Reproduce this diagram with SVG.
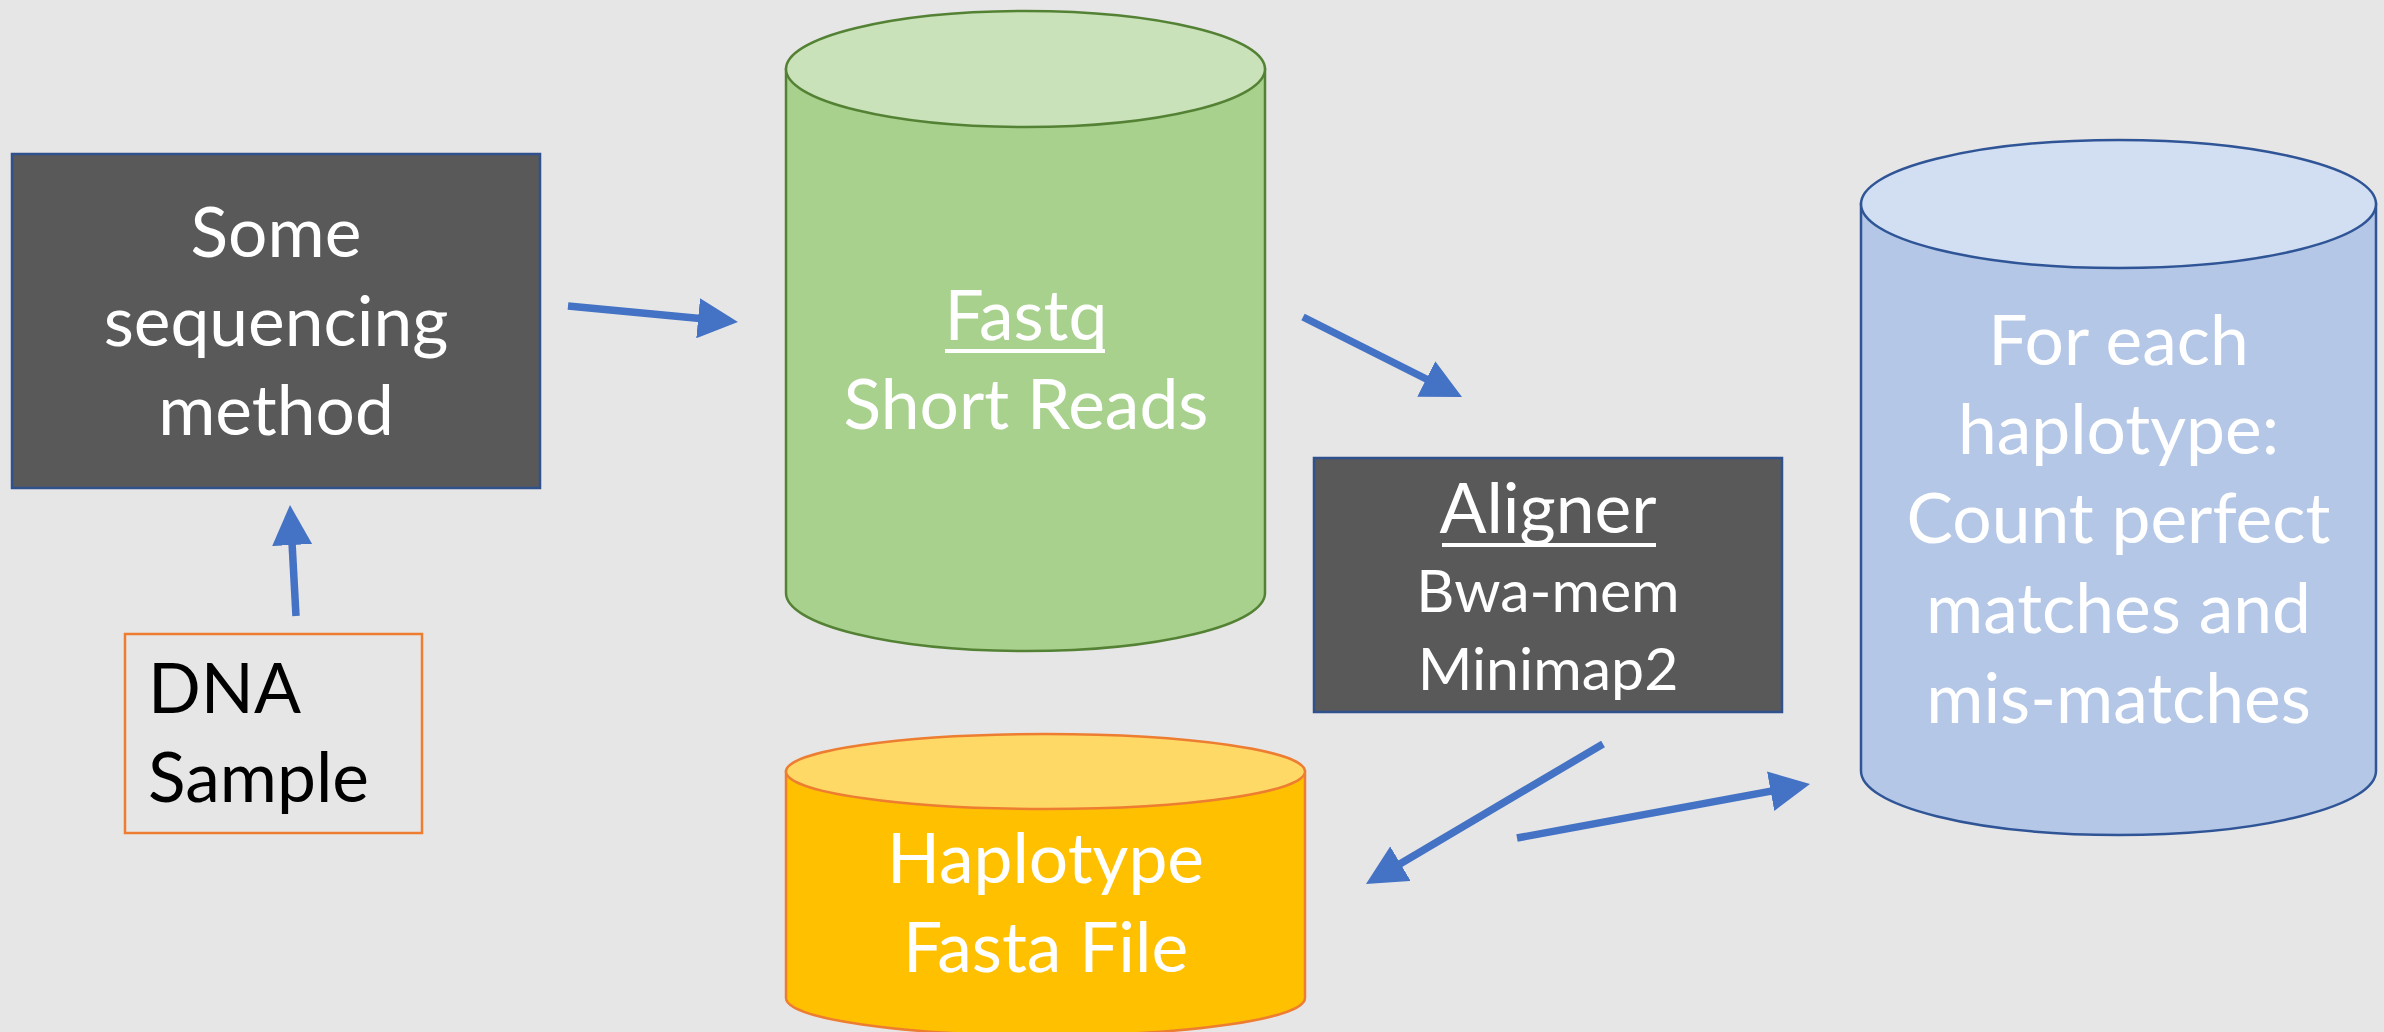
<svg xmlns="http://www.w3.org/2000/svg" width="2384" height="1032" viewBox="0 0 2384 1032">
  <style>
    .lbl { font-family: Lato, "Open Sans", "Liberation Sans", sans-serif; fill: #FFFFFF; text-anchor: middle; }
    .big { font-size: 69.5px; }
    .mid { font-size: 59px; }
    .dark { fill: #000000; text-anchor: start; }
    .proc { fill: #595959; stroke: #2F528F; stroke-width: 2.5; }
    .uline { stroke: #FFFFFF; stroke-width: 4; }
    .conn line { stroke: #4472C4; stroke-width: 7.5; marker-end: url(#head); }
  </style>
  <defs>
    <marker id="head" markerUnits="userSpaceOnUse" markerWidth="40" markerHeight="40" refX="10" refY="20" orient="auto">
      <path d="M0,0 L40,20 L0,40 Z" fill="#4472C4"/>
    </marker>
  </defs>

  <rect width="2384" height="1032" fill="#E7E6E6"/>

  <!-- sequencing step -->
  <g id="sequencing">
    <rect class="proc" x="12" y="154" width="528" height="334"/>
    <text class="lbl big" x="276" y="257">Some</text>
    <text class="lbl big" x="276" y="346">sequencing</text>
    <text class="lbl big" x="276" y="435">method</text>
  </g>

  <!-- input sample -->
  <g id="dna-sample">
    <rect x="125" y="634" width="297" height="199" fill="none" stroke="#ED7D31" stroke-width="2.5"/>
    <text class="lbl big dark" x="148" y="713">DNA</text>
    <text class="lbl big dark" x="148" y="802">Sample</text>
  </g>

  <!-- reads store -->
  <g id="fastq">
    <path d="M786,69 V593 A239.5,58 0 0 0 1265,593 V69 Z" fill="#A9D18E" stroke="#548235" stroke-width="2.5"/>
    <ellipse cx="1025.5" cy="69" rx="239.5" ry="58" fill="#C9E2B9" stroke="#548235" stroke-width="2.5"/>
    <text class="lbl big" x="1026" y="340">Fastq</text>
    <line class="uline" x1="945" y1="351" x2="1105" y2="351"/>
    <text class="lbl big" x="1026" y="429">Short Reads</text>
  </g>

  <!-- aligner step -->
  <g id="aligner">
    <rect class="proc" x="1314" y="458" width="468" height="254"/>
    <text class="lbl big" x="1548" y="533">Aligner</text>
    <line class="uline" x1="1442" y1="545" x2="1656" y2="545"/>
    <text class="lbl mid" x="1548" y="612">Bwa-mem</text>
    <text class="lbl mid" x="1548" y="690">Minimap2</text>
  </g>

  <!-- reference haplotypes -->
  <g id="haplotype-fasta">
    <path d="M786,771.5 V998 A259.5,37.5 0 0 0 1305,998 V771.5 Z" fill="#FFC000" stroke="#ED7D31" stroke-width="2.5"/>
    <ellipse cx="1045.5" cy="771.5" rx="259.5" ry="37.5" fill="#FFD966" stroke="#ED7D31" stroke-width="2.5"/>
    <text class="lbl big" x="1045.5" y="883">Haplotype</text>
    <text class="lbl big" x="1045.5" y="972">Fasta File</text>
  </g>

  <!-- result store -->
  <g id="match-counts">
    <path d="M1861,204 V771 A257.5,64 0 0 0 2376,771 V204 Z" fill="#B4C7E7" stroke="#2F5597" stroke-width="2.5"/>
    <ellipse cx="2118.5" cy="204" rx="257.5" ry="64" fill="#D2DEF1" stroke="#2F5597" stroke-width="2.5"/>
    <text class="lbl big" x="2118.5" y="365">For each</text>
    <text class="lbl big" x="2118.5" y="454">haplotype:</text>
    <text class="lbl big" x="2118.5" y="543">Count perfect</text>
    <text class="lbl big" x="2118.5" y="633">matches and</text>
    <text class="lbl big" x="2118.5" y="723">mis-matches</text>
  </g>

  <!-- connectors -->
  <g id="connectors" class="conn">
    <line x1="296" y1="616" x2="291.6" y2="535"/>
    <line x1="568" y1="306" x2="708.1" y2="319.2"/>
    <line x1="1303" y1="317" x2="1435.2" y2="383.5"/>
    <line x1="1603" y1="744" x2="1391.8" y2="868.7"/>
    <line x1="1517" y1="838" x2="1780.5" y2="789.4"/>
  </g>
</svg>
